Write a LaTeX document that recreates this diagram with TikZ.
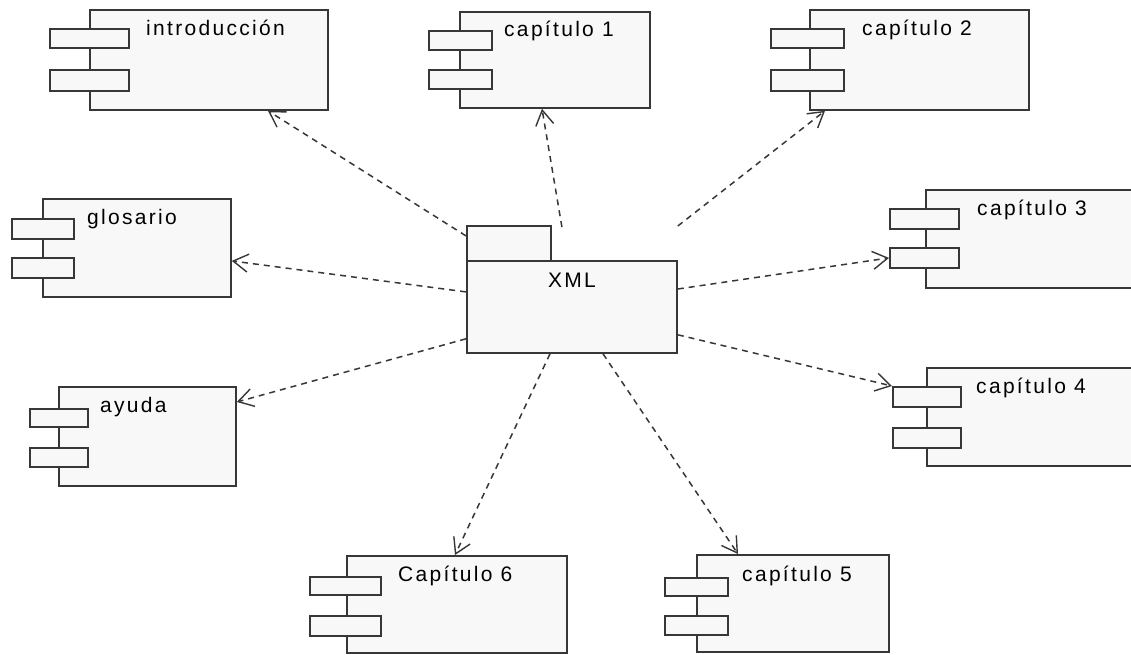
\documentclass[tikz,border=0pt]{standalone}
\usepackage{fontspec}
\setmainfont{Liberation Sans}[LetterSpace=11]
\usepackage{tikz}
\usetikzlibrary{arrows.meta}

\definecolor{boxfill}{RGB}{248,248,248}
\definecolor{edge}{RGB}{55,55,55}

\begin{document}
\begin{tikzpicture}[x=1pt, y=-1pt,
        comp/.style={
            draw=edge,
            fill=boxfill,
            line width=1.8pt,
            anchor=north west,
            inner sep=0pt,
            minimum height=98
        },
        port/.style={
            draw=edge,
            fill=boxfill,
            line width=1.8pt,
            anchor=north west,
            inner sep=0pt,
            minimum height=19
        },
        lbl/.style={
            anchor=base west,
            inner sep=0pt,
            font=\fontsize{21}{24}\selectfont,
            text=black
        },
        dep/.style={
            draw=edge,
            line width=1.5pt,
            dash pattern=on 6pt off 5pt,
            -{Straight Barb[length=15pt,width=18pt,line width=1.4pt]}
        }
    ]
        \clip (0,0) rectangle (1131,654);
        \fill[white] (0,0) rectangle (1131,654);

        % XML package
        \node[comp, minimum width=84, minimum height=35] (xmltab) at (466,225) {};
        \node[comp, minimum width=210, minimum height=92] (xml) at (466,260) {};
        \node[lbl, anchor=base] (xml-t) at (572,287) {XML};

        % introduccion
        \node[comp, minimum width=238, minimum height=100] (intro) at (89,9) {};
        \node[port, minimum width=79] (intro-p1) at (49,28) {};
        \node[port, minimum width=79, minimum height=21] (intro-p2) at (49,69) {};
        \node[lbl] (intro-t) at (146,35) {introducción};

        % capitulo 1
        \node[comp, minimum width=190, minimum height=96] (cap1) at (459,11) {};
        \node[port, minimum width=63] (cap1-p1) at (428,30) {};
        \node[port, minimum width=63] (cap1-p2) at (428,69) {};
        \node[lbl] (cap1-t) at (504,36) {capítulo 1};

        % capitulo 2
        \node[comp, minimum width=219, minimum height=100] (cap2) at (809,9) {};
        \node[port, minimum width=73] (cap2-p1) at (770,28) {};
        \node[port, minimum width=73, minimum height=21] (cap2-p2) at (770,69) {};
        \node[lbl] (cap2-t) at (862,35) {capítulo 2};

        % glosario
        \node[comp, minimum width=188] (glos) at (42,198) {};
        \node[port, minimum width=62, minimum height=20] (glos-p1) at (11,218) {};
        \node[port, minimum width=62, minimum height=20] (glos-p2) at (11,257) {};
        \node[lbl] (glos-t) at (87,224) {glosario};

        % capitulo 3
        \node[comp, minimum width=230] (cap3) at (925,189) {};
        \node[port, minimum width=69, minimum height=20] (cap3-p1) at (889,208) {};
        \node[port, minimum width=69, minimum height=20] (cap3-p2) at (889,247) {};
        \node[lbl] (cap3-t) at (977,215) {capítulo 3};

        % capitulo 4
        \node[comp, minimum width=230] (cap4) at (926,367) {};
        \node[port, minimum width=68, minimum height=20] (cap4-p1) at (892,386) {};
        \node[port, minimum width=68, minimum height=20] (cap4-p2) at (892,427) {};
        \node[lbl] (cap4-t) at (976,393) {capítulo 4};

        % ayuda
        \node[comp, minimum width=177, minimum height=99] (ayuda) at (58,386) {};
        \node[port, minimum width=58, minimum height=18] (ayuda-p1) at (29,408) {};
        \node[port, minimum width=58] (ayuda-p2) at (29,447) {};
        \node[lbl] (ayuda-t) at (100,412) {ayuda};

        % Capitulo 6
        \node[comp, minimum width=220, minimum height=97] (cap6) at (346,555) {};
        \node[port, minimum width=71, minimum height=18] (cap6-p1) at (309,576) {};
        \node[port, minimum width=71, minimum height=20] (cap6-p2) at (309,615) {};
        \node[lbl] (cap6-t) at (398,581) {Capítulo 6};

        % capitulo 5
        \node[comp, minimum width=192, minimum height=97] (cap5) at (696,554) {};
        \node[port, minimum width=63, minimum height=18] (cap5-p1) at (664,577) {};
        \node[port, minimum width=63] (cap5-p2) at (664,615) {};
        \node[lbl] (cap5-t) at (742,581) {capítulo 5};

        % Dependencies
        \draw[dep] ([yshift=7.5]xmltab.west) -- ([xshift=179]intro.south west);
        \draw[dep] ([xshift=-10,yshift=33]xml.north) -- ([xshift=83]cap1.south west);
        \draw[dep] ([yshift=34]xml.north east) -- ([xshift=16]cap2.south west);
        \draw[dep] ([yshift=15]xml.west) -- ([yshift=-13]glos.east);
        \draw[dep] ([yshift=15]xml.south west) -- ([yshift=-16]ayuda.north east);
        \draw[dep] ([yshift=-29]xml.north east) -- (cap3-p2.west);
        \draw[dep] ([yshift=19]xml.south east) -- (cap4-p1.north west);
        \draw[dep] ([xshift=84]xml.south west) -- ([xshift=109]cap6.north west);
        \draw[dep] ([xshift=137]xml.south west) -- ([xshift=42]cap5.north west);

    \end{tikzpicture}
\end{document}
